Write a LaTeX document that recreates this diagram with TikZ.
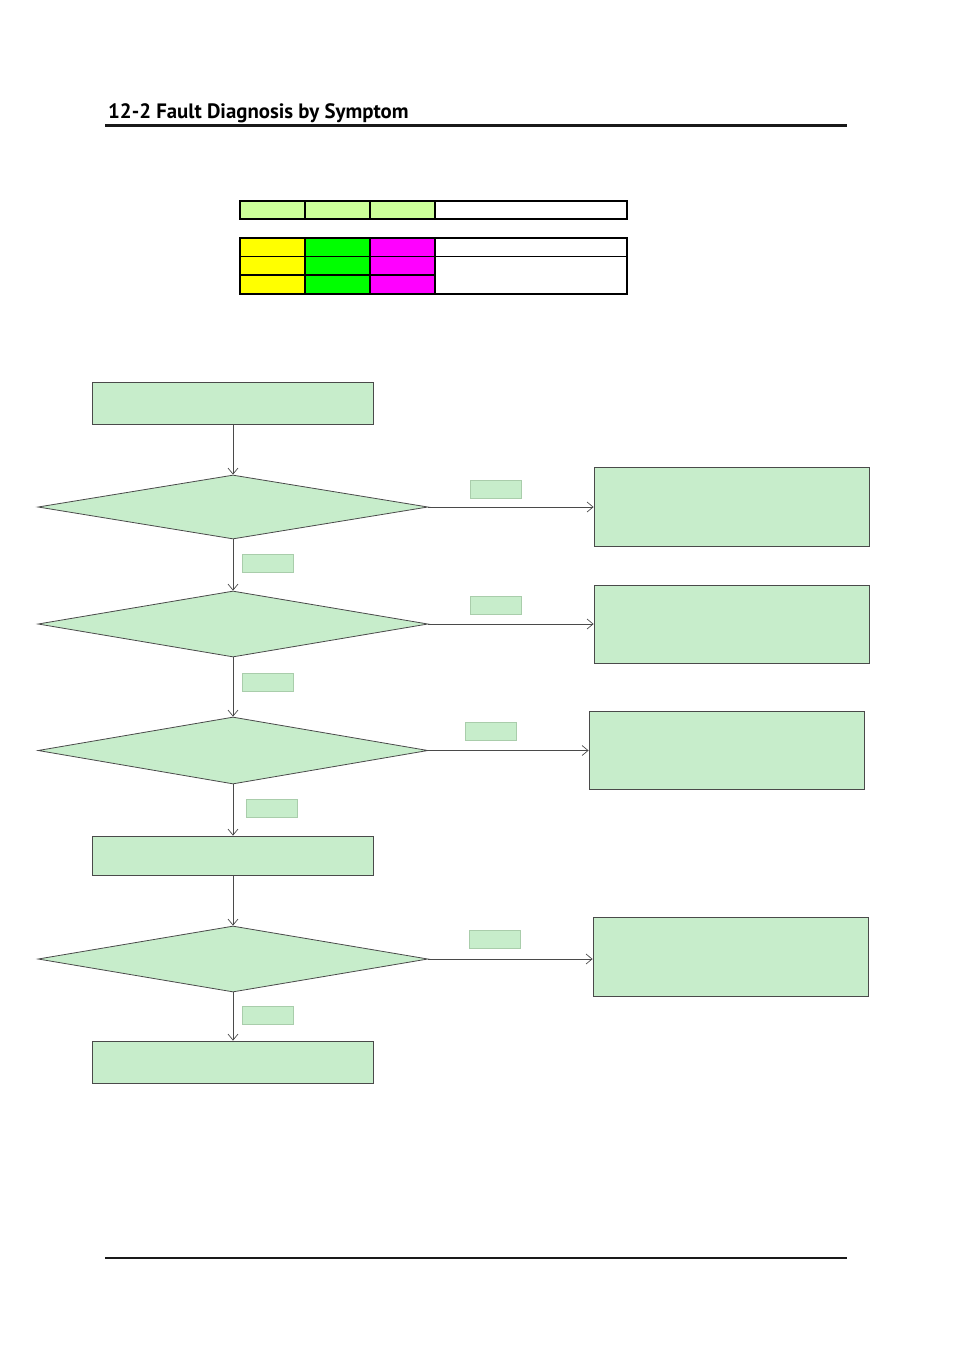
\documentclass[tikz,border=0pt]{standalone}
\usepackage{fontspec}
\setmainfont{PT Sans}
\usetikzlibrary{arrows.meta,positioning,shapes.geometric}
\definecolor{boxgreen}{HTML}{C7EDCB}
\definecolor{tagline}{HTML}{A9CDAB}
\definecolor{edge}{HTML}{4A4A4A}
\definecolor{legendgreen}{HTML}{CCFF99}
\definecolor{legendyellow}{HTML}{FFFF00}
\definecolor{legendlime}{HTML}{00FF00}
\definecolor{legendpink}{HTML}{FF00FF}

\begin{document}
\begin{tikzpicture}[
  x=1pt,y=-1pt,
  box/.style={draw=edge,fill=boxgreen,inner sep=0pt,line width=0.8pt},
  quest/.style={diamond,draw=edge,fill=boxgreen,inner sep=0pt,line width=0.8pt,
            minimum width=390pt,minimum height=64pt},
  tag/.style={draw=tagline,fill=boxgreen,inner sep=0pt,line width=0.8pt,
            minimum width=51pt,minimum height=18pt},
  arr/.style={-{Straight Barb[length=6pt,width=10pt]},draw=edge,line width=0.7pt}
]
\useasboundingbox (0,0) rectangle (954,1350);

% header and footer
\node[anchor=base west,inner sep=0pt,font=\fontsize{20.8}{24}\selectfont\bfseries] (title) at (108,118) {12-2 Fault Diagnosis by Symptom};
\draw[line width=3pt,black!90] (105,125) -- (847,125);
\draw[line width=1.3pt,black!90] (105,1258) -- (847,1258);

% legend
\foreach \x in {240,305,370}
  \fill[legendgreen] (\x,201) rectangle ++(65,18);
\fill[legendyellow] (240,238) rectangle (305,294);
\fill[legendlime] (305,238) rectangle (370,294);
\fill[legendpink] (370,238) rectangle (435,294);
\draw[line width=1.6pt] (240,201) rectangle (627,219);
\draw[line width=1.6pt] (240,238) rectangle (627,294);
\foreach \x in {305,370,435} {
  \draw[line width=1.3pt] (\x,201) -- (\x,219);
  \draw[line width=1.3pt] (\x,238) -- (\x,294);
}
\draw[line width=1pt] (240,256) -- (627,256);
\draw[line width=1.3pt] (240,275) -- (436,275);

% flow
\node[box,minimum width=281pt,minimum height=42pt] (start) at (232.5,403) {};
\node[quest] (q1) at (233,507) {};
\node[quest,minimum height=66pt] (q2) at (233,624) {};
\node[quest,minimum height=67pt] (q3) at (233,750.5) {};
\node[box,minimum width=281pt,minimum height=39pt] (mid) at (232.5,855.5) {};
\node[quest,minimum height=66pt] (q4) at (233,959) {};
\node[box,minimum width=281pt,minimum height=42pt] (stop) at (232.5,1062) {};

\node[box,minimum width=275pt,minimum height=79pt] (r1) at (731.5,506.5) {};
\node[box,minimum width=275pt,minimum height=78pt] (r2) at (731.5,624) {};
\node[box,minimum width=275pt,minimum height=78pt] (r3) at (726.5,750) {};
\node[box,minimum width=275pt,minimum height=79pt] (r4) at (730.5,956.5) {};

% answer tags
\node[tag] (t1) at (495.5,489.5) {};
\node[tag] (t2) at (495.5,605.5) {};
\node[tag] (t3) at (491,731.5) {};
\node[tag] (t4) at (494.5,939.5) {};
\node[tag] (d1) at (268,563.5) {};
\node[tag] (d2) at (268,682) {};
\node[tag] (d3) at (271.5,808) {};
\node[tag] (d4) at (268,1015.5) {};

\draw[arr] (start.south -| q1.north) -- (q1.north);
\draw[arr] (q1) -- (q2);
\draw[arr] (q2) -- (q3);
\draw[arr] (q3.south) -- (mid.north -| q3.south);
\draw[arr] (mid.south -| q4.north) -- (q4.north);
\draw[arr] (q4.south) -- (stop.north -| q4.south);

\draw[arr] (q1.east) -- (r1.west |- q1.east);
\draw[arr] (q2.east) -- (r2.west |- q2.east);
\draw[arr] (q3.east) -- (r3.west |- q3.east);
\draw[arr] (q4.east) -- (r4.west |- q4.east);
\end{tikzpicture}
\end{document}
